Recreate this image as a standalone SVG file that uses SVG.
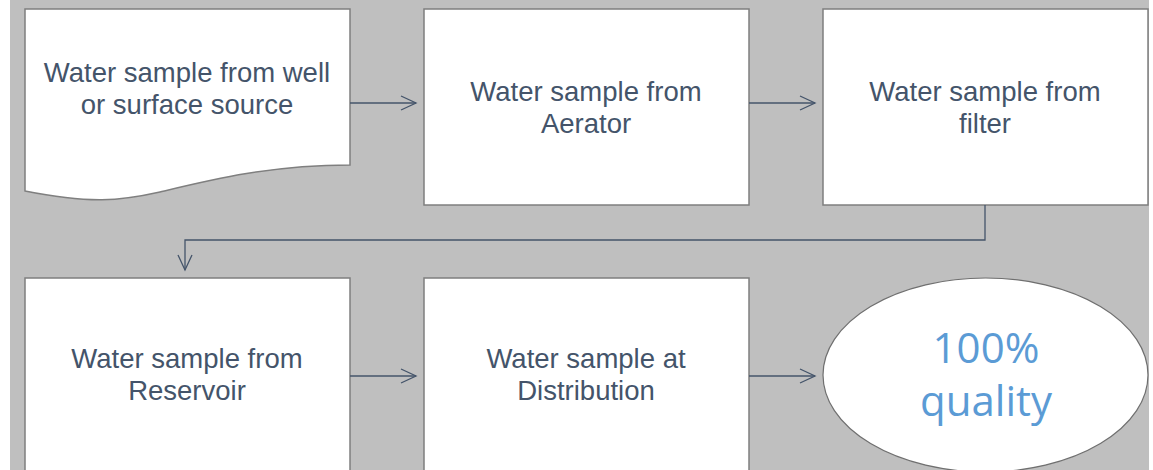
<svg xmlns="http://www.w3.org/2000/svg" width="1153" height="470" viewBox="0 0 1153 470">
  <defs>
    <style>
      .box { fill: #ffffff; stroke: #7f7f7f; stroke-width: 1.5; }
      .lbl { font-family: "Liberation Sans", Arial, sans-serif; font-size: 27.5px; fill: #44546a; text-anchor: middle; }
      .big { font-family: "Open Sans", "Liberation Sans", sans-serif; font-size: 42px; fill: #5b9bd5; text-anchor: middle; }
      .conn { fill: none; stroke: #44546a; stroke-width: 1.3; }
    </style>
    <marker id="arrow" markerWidth="20" markerHeight="20" refX="16" refY="8" orient="auto" markerUnits="userSpaceOnUse">
      <path d="M1,1 L16,8 L1,15" fill="none" stroke="#44546a" stroke-width="1.3"/>
    </marker>
  </defs>

  <!-- page background -->
  <rect x="0" y="0" width="1153" height="470" fill="#ffffff"/>
  <rect x="10" y="0" width="1139" height="470" fill="#bfbfbf"/>

  <g id="well-source">
    <path class="box" d="M25,9 H350 V165 C270,165 210,180 160,192 C120,201 90,204 25,191 Z"/>
    <text class="lbl" x="187" y="82">Water sample from well<tspan x="187" dy="32">or surface source</tspan></text>
  </g>

  <g id="aerator">
    <rect class="box" x="424" y="9" width="325" height="196"/>
    <text class="lbl" x="586" y="101">Water sample from<tspan x="586" dy="32">Aerator</tspan></text>
  </g>

  <g id="filter">
    <rect class="box" x="823" y="9" width="325" height="196"/>
    <text class="lbl" x="985" y="101">Water sample from<tspan x="985" dy="32">filter</tspan></text>
  </g>

  <g id="reservoir">
    <rect class="box" x="25" y="278" width="325" height="200"/>
    <text class="lbl" x="187" y="368">Water sample from<tspan x="187" dy="32">Reservoir</tspan></text>
  </g>

  <g id="distribution">
    <rect class="box" x="424" y="278" width="325" height="200"/>
    <text class="lbl" x="586" y="368">Water sample at<tspan x="586" dy="32">Distribution</tspan></text>
  </g>

  <g id="quality">
    <ellipse cx="985.5" cy="375" rx="162.5" ry="97" fill="#ffffff" stroke="#6f6f6f" stroke-width="1.2"/>
    <text class="big" x="986" y="363">100%<tspan x="986" dy="53">quality</tspan></text>
  </g>

  <g id="connectors">
    <path class="conn" d="M350,103 H416" marker-end="url(#arrow)"/>
    <path class="conn" d="M749,103 H815" marker-end="url(#arrow)"/>
    <path class="conn" d="M985,205 V240 H185 V270" marker-end="url(#arrow)"/>
    <path class="conn" d="M350,376 H416" marker-end="url(#arrow)"/>
    <path class="conn" d="M749,376 H815" marker-end="url(#arrow)"/>
  </g>
</svg>
